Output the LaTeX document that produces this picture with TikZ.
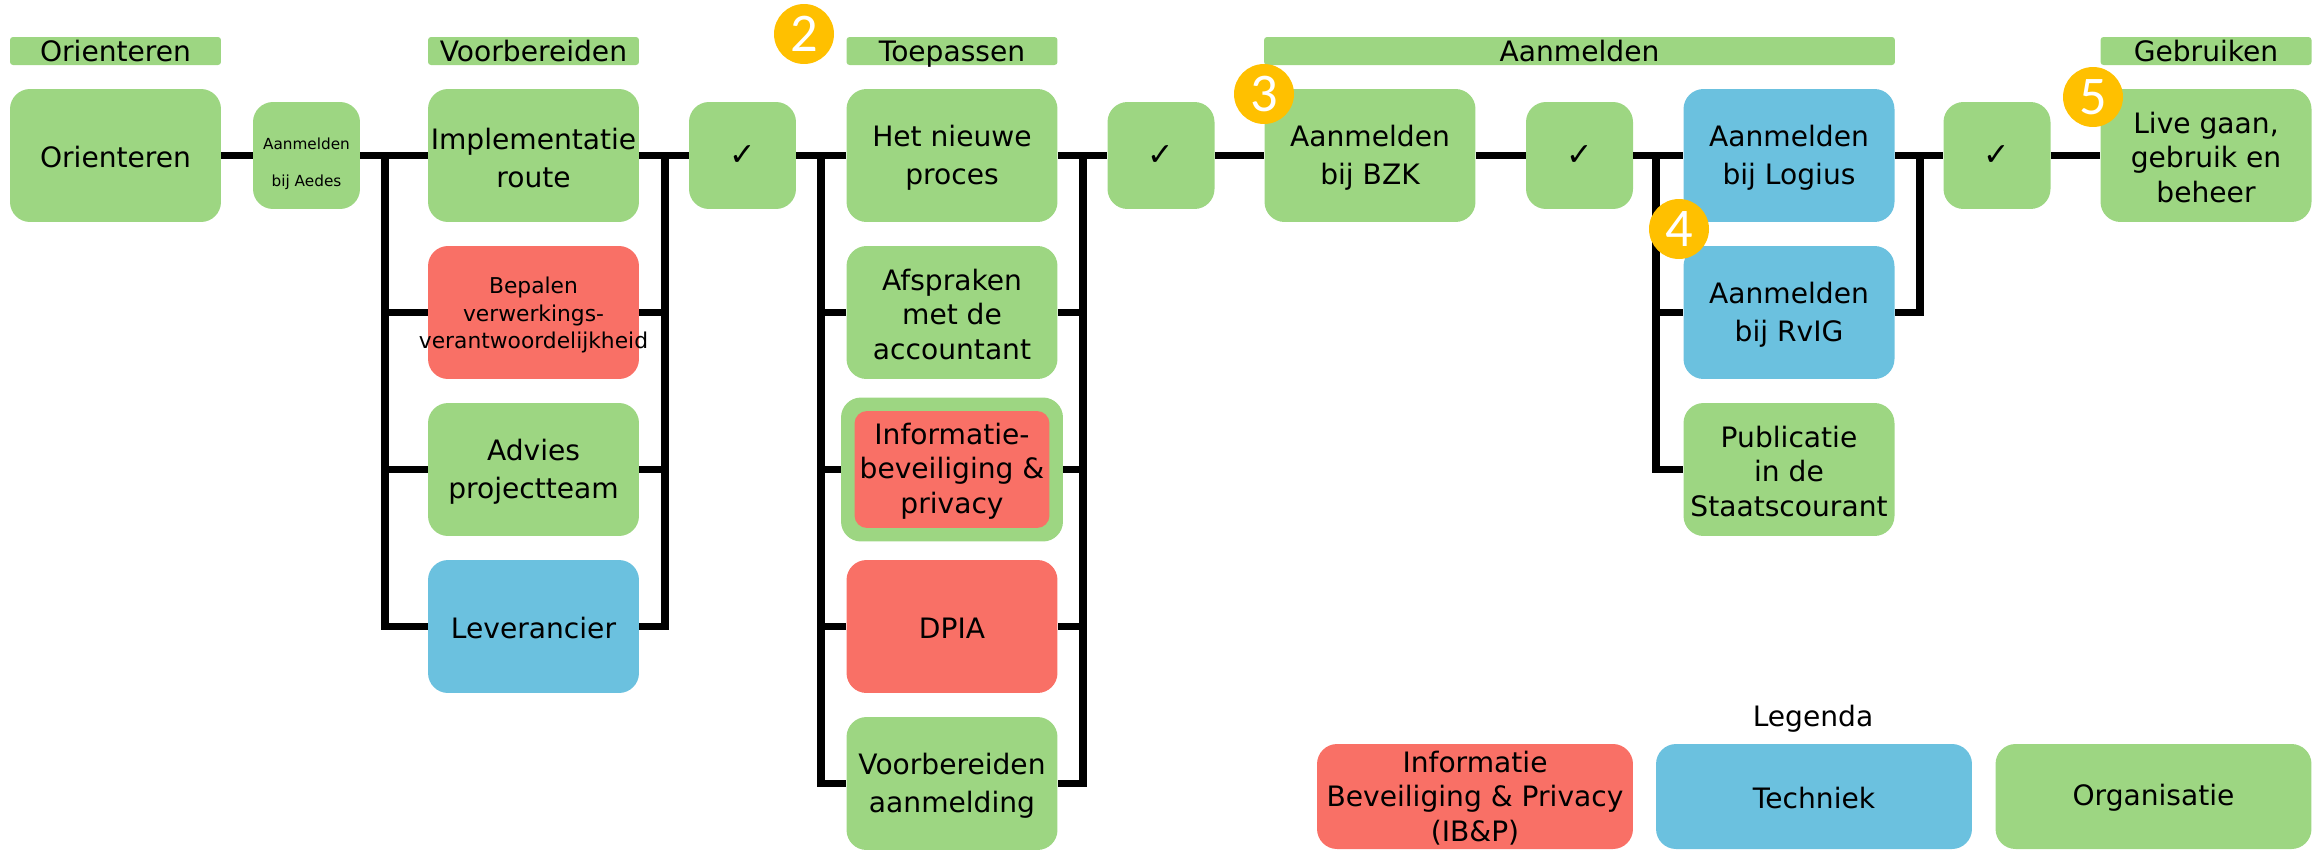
\documentclass[tikz,border=0pt]{standalone}
\usepackage{fontspec}
\setmainfont{DejaVu Sans}
\newfontfamily\badgefont{Carlito}
\definecolor{groen}{RGB}{157,214,130}
\definecolor{rood}{RGB}{249,112,102}
\definecolor{blauw}{RGB}{107,193,223}
\definecolor{oranje}{RGB}{255,192,0}
% empty first line, lets the text sit a little low in its box
\newcommand\zak[1][15pt]{\mbox{}\\[\dimexpr#1-\baselineskip\relax]}
\begin{document}
\begin{tikzpicture}[
  x=0.02cm, y=-0.02cm,
  box/.style={rectangle, rounded corners=0.4cm, inner sep=0pt, align=center,
    minimum width=4.22cm, minimum height=2.66cm, font=\fontsize{16}{21.5}\selectfont},
  drie/.style={font=\fontsize{16}{19.6}\selectfont},
  org/.style={box, fill=groen},
  ib/.style={box, fill=rood},
  tech/.style={box, fill=blauw},
  kop/.style={rectangle, rounded corners=0.06cm, inner sep=0pt, fill=groen, minimum height=0.56cm,
    text height=13.5pt, text depth=1.1pt, font=\fontsize{16}{20}\selectfont},
  check/.style={org, minimum width=2.14cm, minimum height=2.14cm},
  vink/.style={check, font=\fontsize{18}{20}\selectfont},
  leg/.style={box, minimum width=6.32cm, minimum height=2.1cm},
  badge/.style={circle, fill=oranje, text=white, inner sep=0pt, minimum size=1.2cm,
    font=\badgefont\fontsize{31}{31}\selectfont},
  e/.style={line width=4.1pt}
]
\useasboundingbox (0,0) rectangle (2323,849);

% headers
\node[kop, minimum width=4.22cm] (kop1) at (115.5,51) {Orienteren};
\node[kop, minimum width=4.22cm] (kop2) at (533.5,51) {Voorbereiden};
\node[kop, minimum width=4.22cm] (kop3) at (952,51) {Toepassen};
\node[kop, minimum width=12.62cm] (kop4) at (1579.5,51) {Aanmelden};
\node[kop, minimum width=4.22cm] (kop5) at (2206,51) {Gebruiken};

% steps
\node[org] (orient) at (115.5,155.5) {\zak[13.5pt]Orienteren};
\node[check, font=\fontsize{8.7}{21}\selectfont] (aedes) at (306.5,155.5) {\zak[15.6pt]Aanmelden\\bij Aedes};

\node[org] (impl) at (533.5,155.5) {\zak Implementatie\\route};
\node[ib, font=\fontsize{12.4}{15.6}\selectfont] (bepalen) at (533.5,312.5) {\zak[12.4pt]Bepalen\\verwerkings-\\\makebox[0pt]{verantwoordelijkheid}};
\node[org] (advies) at (533.5,469.5) {\zak Advies\\projectteam};
\node[tech] (lever) at (533.5,626.5) {\zak[13.5pt]Leverancier};
\node[vink] (check1) at (742.5,155.5) {✓};

\node[org] (proces) at (952,155.5) {\zak Het nieuwe\\proces};
\node[org, drie] (afspr) at (952,312.5) {\zak[14pt]Afspraken\\met de\\accountant};
\node[org, minimum width=4.44cm, minimum height=2.88cm] (infokader) at (952,469.5) {};
\node[ib, drie, minimum width=3.9cm, minimum height=2.34cm, rounded corners=0.25cm] (info) at (952,469.5) {\zak[14pt]Informatie-\\beveiliging \&\\privacy};
\node[ib] (dpia) at (952,626.5) {\zak[13.5pt]DPIA};
\node[org] (voorb) at (952,783.5) {\zak Voorbereiden\\aanmelding};
\node[vink] (check2) at (1161,155.5) {✓};

\node[org] (bzk) at (1370,155.5) {\zak Aanmelden\\bij BZK};
\node[vink] (check3) at (1579.5,155.5) {✓};
\node[tech] (logius) at (1789,155.5) {\zak Aanmelden\\bij Logius};
\node[tech] (rvig) at (1789,312.5) {\zak Aanmelden\\bij RvIG};
\node[org, drie] (staats) at (1789,469.5) {\zak[14pt]Publicatie\\in de\\Staatscourant};
\node[vink] (check4) at (1997,155.5) {✓};
\node[org, drie] (live) at (2206,155.5) {\zak[14pt]Live gaan,\\gebruik en\\beheer};

% bus bars
\coordinate (busA) at (385,155.5);
\coordinate (busB) at (665,155.5);
\coordinate (busC) at (821,155.5);
\coordinate (busD) at (1083,155.5);
\coordinate (busE) at (1656,155.5);
\coordinate (busF) at (1920,155.5);

% main line
\draw[e] (orient)--(aedes);
\draw[e] (aedes)--(impl);
\draw[e] (impl)--(check1);
\draw[e] (check1)--(proces);
\draw[e] (proces)--(check2);
\draw[e] (check2)--(bzk);
\draw[e] (bzk)--(check3);
\draw[e] (check3)--(logius);
\draw[e] (logius)--(check4);
\draw[e] (check4)--(live);

% branches
\foreach \n in {bepalen,advies,lever} {
  \draw[e] (busA) |- (\n.west);
  \draw[e] (busB) |- (\n.east);
}
\foreach \n in {afspr,infokader,dpia,voorb} {
  \draw[e] (busC) |- (\n.west);
  \draw[e] (busD) |- (\n.east);
}
\foreach \n in {rvig,staats} {
  \draw[e] (busE) |- (\n.west);
}
\draw[e] (busF) |- (rvig.east);

% legend
\node[font=\fontsize{16}{20}\selectfont] (legenda) at (1813,719) {Legenda};
\node[leg, drie, fill=rood] (legib) at (1475,796.5) {\zak[14pt]Informatie\\Beveiliging \& Privacy\\(IB\&P)};
\node[leg, fill=blauw] (legtech) at (1814,796.5) {\zak[13.5pt]Techniek};
\node[leg, fill=groen] (legorg) at (2153.5,796.5) {\zak[13.5pt]Organisatie};

% numbers
\node[badge] (nr2) at (804,34) {2};
\node[badge] (nr3) at (1264,94) {3};
\node[badge] (nr4) at (1679,229) {4};
\node[badge] (nr5) at (2093,97) {5};
\end{tikzpicture}
\end{document}
